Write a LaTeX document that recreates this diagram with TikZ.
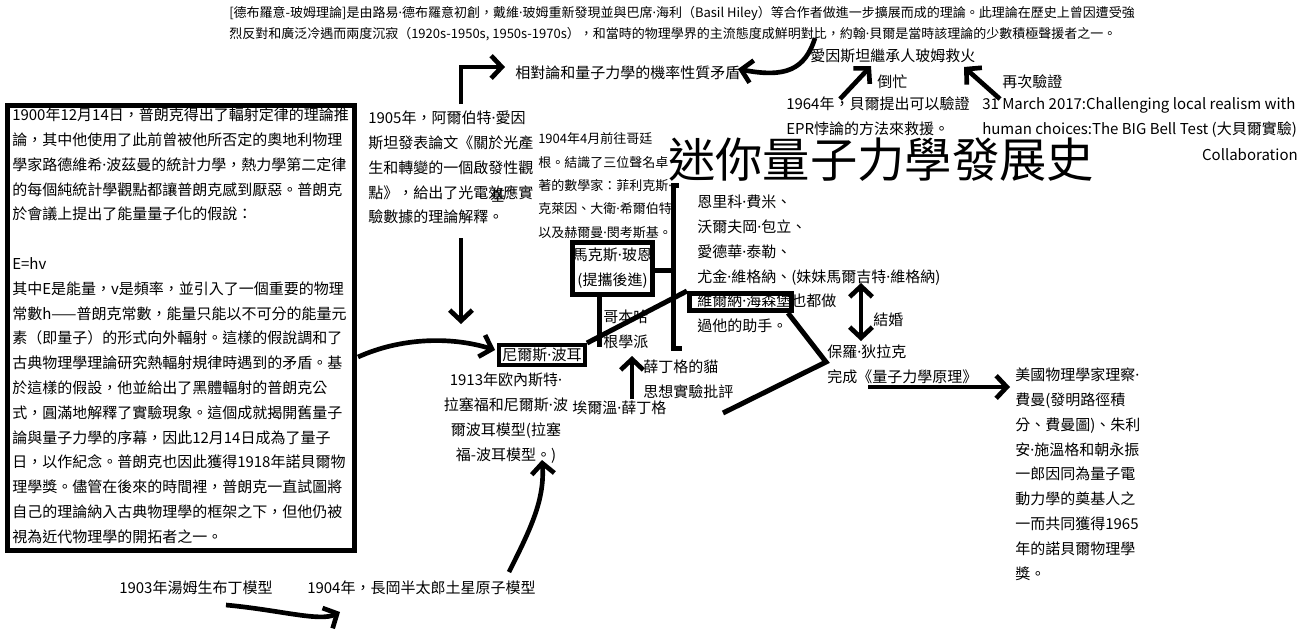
\documentclass[tikz,border=0pt]{standalone}
\usepackage{fontspec}
\setmainfont{Noto Sans CJK TC}
\newfontfamily\latinfont{Noto Sans}
\newcommand\md{{\latinfont ·}}
\usetikzlibrary{arrows.meta}
\newcommand\fA{\fontsize{11.25pt}{18.6pt}\selectfont}
\newcommand\fB{\fontsize{9.75pt}{17.5pt}\selectfont}
\newcommand\fT{\fontsize{9.75pt}{15.75pt}\selectfont}
\newcommand\fH{\fontsize{35.5pt}{40pt}\selectfont}
\begin{document}
\begin{tikzpicture}[x=0.75pt,y=-0.75pt,
  txt/.style={inner sep=0pt, align=left, anchor=base west, font=\fA},
  smalltxt/.style={txt, font=\fB},
  toptxt/.style={txt, font=\fT},
  boxnode/.style={draw, line width=3.75pt, inner sep=0pt, align=center, font=\fA},
  thickline/.style={line width=3.75pt},
  arr/.style={line width=3.5pt, -{Straight Barb[length=8pt,width=17pt]}},
  dblarr/.style={line width=3.5pt, {Straight Barb[length=8pt,width=17pt]}-{Straight Barb[length=8pt,width=17pt]}}]
\useasboundingbox (0,0) rectangle (1307,633);
\fill[white] (0,0) rectangle (1307,633);

% top text (single lines: anchor = baseline)
\node[toptxt] (top1) at (229,17) {[德布羅意-玻姆理論]是由路易\md 德布羅意初創，戴維\md 玻姆重新發現並與巴席\md 海利（Basil Hiley）等合作者做進一步擴展而成的理論。此理論在歷史上曾因遭受強};
\node[toptxt] (top2) at (229,38) {烈反對和廣泛冷遇而兩度沉寂（1920s-1950s, 1950s-1970s），和當時的物理學界的主流態度成鮮明對比，約翰\md 貝爾是當時該理論的少數積極聲援者之一。};

% title
\node[inner sep=0pt, font=\fH] (title) at (881,160) {迷你量子力學發展史};

% Planck box (multi-line nodes: anchor = baseline of LAST line)
\node[draw, line width=3.75pt, minimum width=260.25pt, minimum height=333.75pt, inner sep=0pt] (planck) at (181,328) {};
\node[txt] (planckText) at (12,542.3) {1900年12月14日，普朗克得出了輻射定律的理論推\\
論，其中他使用了此前曾被他所否定的奧地利物理\\
學家路德維希\md 波茲曼的統計力學，熱力學第二定律\\
的每個純統計學觀點都讓普朗克感到厭惡。普朗克\\
於會議上提出了能量量子化的假說：\\
~\\
E=hv\\
其中E是能量，v是頻率，並引入了一個重要的物理\\
常數h——普朗克常數，能量只能以不可分的能量元\\
素（即量子）的形式向外輻射。這樣的假說調和了\\
古典物理學理論研究熱輻射規律時遇到的矛盾。基\\
於這樣的假設，他並給出了黑體輻射的普朗克公\\
式，圓滿地解釋了實驗現象。這個成就揭開舊量子\\
論與量子力學的序幕，因此12月14日成為了量子\\
日，以作紀念。普朗克也因此獲得1918年諾貝爾物\\
理學獎。儘管在後來的時間裡，普朗克一直試圖將\\
自己的理論納入古典物理學的框架之下，但他仍被\\
視為近代物理學的開拓者之一。};

% 1905 Einstein
\node[txt] (einstein) at (368,222.9) {1905年，阿爾伯特\md 愛因\\
斯坦發表論文《關於光產\\
生和轉變的一個啟發性觀\\
點》，給出了光電效應實\\
驗數據的理論解釋。};
\node[txt] (stray) at (490,201.7) {基};

% 1904 Göttingen
\node[smalltxt] (gottingen) at (538,237) {1904年4月前往哥廷\\
根。結識了三位聲名卓\\
著的數學家：菲利克斯\md \\
克萊因、大衛\md 希爾伯特\\
以及赫爾曼\md 閔考斯基。};

% contradiction etc.
\node[txt] (contra) at (515,78.7) {相對論和量子力學的機率性質矛盾};
\node[txt] (heir) at (810,61.7) {愛因斯坦繼承人玻姆救火};
\node[txt] (daomang) at (877,87.7) {倒忙};
\node[txt] (again) at (1002,87.7) {再次驗證};
\node[txt] (bell) at (786,134.5) {1964年，貝爾提出可以驗證\\
EPR悖論的方法來救援。};
\node[txt] (bigbell) at (982,134.5) {31 March 2017:Challenging local realism with\\
human choices:The BIG Bell Test (大貝爾實驗)};
\node[inner sep=0pt, anchor=base east, font=\fA] (collab) at (1298,160.5) {Collaboration};

% Born box
\node[boxnode, minimum width=60pt, minimum height=39pt] (born) at (612.5,268.5) {馬克斯\md 玻恩\\(提攜後進)};
% assistants
\node[txt] (assist) at (697,331.7) {恩里科\md 費米、\\
沃爾夫岡\md 包立、\\
愛德華\md 泰勒、\\
尤金\md 維格納、(妹妹馬爾吉特\md 維格納)\\
維爾納\md 海森堡也都做\\
過他的助手。};
\node[draw, line width=3.75pt, minimum width=76.5pt, minimum height=12.75pt, inner sep=0pt] (heis) at (740.5,302) {};

% Bohr box
\node[draw, line width=3pt, minimum width=64.5pt, minimum height=15pt, inner sep=0pt, font=\fA] (bohr) at (542,355) {尼爾斯\md 波耳};

\node[txt] (copen) at (603,347.5) {哥本哈\\根學派};
\node[txt] (cat) at (643,397.5) {薛丁格的貓\\思想實驗批評};
\node[txt] (schrod) at (572,413.7) {埃爾溫\md 薛丁格};
\node[inner sep=0pt, align=center, anchor=base, font=\fA] (ruth) at (506,460.1) {1913年欧內斯特\md \\拉塞福和尼爾斯\md 波\\爾波耳模型(拉塞\\福-波耳模型。)};

\node[txt] (marry) at (873,325.7) {結婚};
\node[txt] (dirac) at (827,382.5) {保羅\md 狄拉克\\完成《量子力學原理》};
\node[txt] (feyn) at (1015,579.1) {美國物理學家理察\md \\
費曼(發明路徑積\\
分、費曼圖)、朱利\\
安\md 施溫格和朝永振\\
一郎因同為量子電\\
動力學的奠基人之\\
一而共同獲得1965\\
年的諾貝爾物理學\\
獎。};

\node[txt] (thomson) at (119,593.7) {1903年湯姆生布丁模型};
\node[txt] (nagaoka) at (307,593.7) {1904年，長岡半太郎土星原子模型};

% ---- connectors ----
\draw[thickline] (679,185) -- (673,185) -- (673,348) -- (682,348);
\coordinate (brk) at (673,270);
\draw[thickline] (born.east |- brk) -- (brk);
\coordinate (bornfoot) at (599,347);
\draw[thickline] (born.south -| bornfoot) -- (bornfoot);
\draw[thickline] (bohr.north east) -- (heis.north west);
\coordinate (vtx) at (826,362);
\coordinate (vend) at (723,413);
\draw[thickline] (heis.south east) ++(-6,0) -- (vtx) -- (vend);

\coordinate (e1) at (461,104);
\coordinate (e2) at (505,67);
\draw[arr] (e1) |- (e2);
\coordinate (e3) at (461,238);
\coordinate (e4) at (461,324);
\draw[arr] (e3) -- (e4);

\coordinate (p1) at (358,357);
\coordinate (p2) at (495,350);
\draw[arr] (p1) .. controls (400,338) and (450,336) .. (p2);

\coordinate (h1) at (815,38);
\coordinate (h2) at (738,69);
\draw[arr] (h1) .. controls (805,70) and (785,78) .. (h2);

\coordinate (b1) at (840,99);
\coordinate (b2) at (871,66);
\draw[arr] (b1) -- (b2);
\coordinate (g1) at (1000,99);
\coordinate (g2) at (964,67);
\draw[arr] (g1) -- (g2);

\coordinate (m1) at (861,283);
\coordinate (m2) at (861,341);
\draw[dblarr] (m1) -- (m2);

\coordinate (d1) at (868,387);
\coordinate (d2) at (1010,387);
\draw[arr] (d1) -- (d2);

\coordinate (s1) at (632,399);
\coordinate (s2) at (632,356);
\draw[arr] (s1) -- (s2);

\coordinate (t1) at (226,605);
\coordinate (t2) at (340,612);
\draw[arr] (t1) .. controls (280,610) and (320,622) .. (t2);

\coordinate (n1) at (509,572);
\coordinate (n2) at (542,460);
\draw[arr] (n1) .. controls (530,530) and (545,500) .. (n2);
\end{tikzpicture}
\end{document}
